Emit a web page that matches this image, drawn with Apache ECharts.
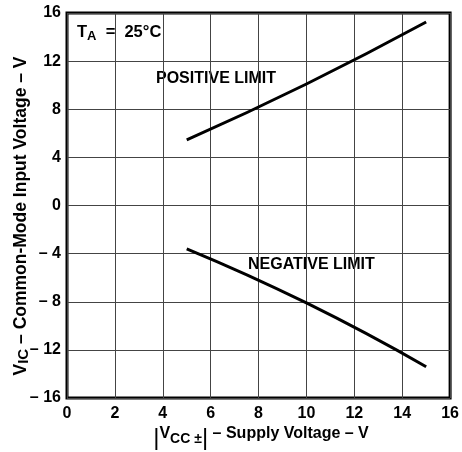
<!DOCTYPE html>
<html><head><meta charset="utf-8">
<script src="https://cdn.jsdelivr.net/npm/echarts@6/dist/echarts.min.js"></script>
<style>html,body{margin:0;padding:0;background:#fff}#c{width:462px;height:452px}</style>
</head><body><div id="c"></div>
<script>
const xTicks = [0, 2, 4, 6, 8, 10, 12, 14, 16];
const yTicks = [-16, -12, -8, -4, 0, 4, 8, 12, 16];
const posX = [5, 10, 15];
const posY = [5.45, 10.1, 15.25];
const negX = [5, 10, 15];
const negY = [-3.6, -8.1, -13.4];

const FONT = '"Liberation Sans", Arial, Helvetica, sans-serif';
const chart = echarts.init(document.getElementById('c'), null, {renderer: 'canvas'});
const txt = (size, lh) => ({fontFamily: FONT, fontWeight: 'bold', fontSize: size, color: '#000', lineHeight: lh, verticalAlign: 'top'});
const sub = (size, lh, dy) => ({fontFamily: FONT, fontWeight: 'bold', fontSize: size, color: '#000', lineHeight: lh, verticalAlign: 'top', padding: [dy, 0, 0, 0]});

chart.setOption({
  animation: false,
  backgroundColor: '#fff',
  grid: {left: 67, right: 9, top: 13, bottom: 54, show: true, borderColor: '#000', borderWidth: 3, backgroundColor: 'transparent'},
  xAxis: {
    type: 'value', min: xTicks[0], max: xTicks[xTicks.length - 1], interval: 2,
    axisLine: {show: false}, axisTick: {show: false},
    splitLine: {show: true, lineStyle: {color: '#444', width: 1}},
    axisLabel: {margin: 8, fontFamily: FONT, fontWeight: 'bold', fontSize: 16, color: '#000'}
  },
  yAxis: {
    type: 'value', min: yTicks[0], max: yTicks[yTicks.length - 1], interval: 4,
    axisLine: {show: false}, axisTick: {show: false},
    splitLine: {show: true, lineStyle: {color: '#444', width: 1}},
    axisLabel: {margin: 6, fontFamily: FONT, fontWeight: 'bold', fontSize: 16, color: '#000',
      formatter: v => v < 0 ? '\u2013 ' + Math.abs(v) : String(v)}
  },
  series: [
    {type: 'line', data: posX.map((x, i) => [x, posY[i]]), smooth: 0.5, symbol: 'none',
     lineStyle: {color: '#000', width: 3}},
    {type: 'line', data: negX.map((x, i) => [x, negY[i]]), smooth: 0.5, symbol: 'none',
     lineStyle: {color: '#000', width: 3}}
  ],
  graphic: [
    {type: 'text', left: 77, top: 24, style: {
      text: '{t|T}{s|A}{t|  =  25°C}',
      rich: {t: txt(16.5, 18), s: sub(13, 18, 6)}}},
    {type: 'text', left: 156, top: 71, style: {
      text: 'POSITIVE LIMIT', fontFamily: FONT, fontWeight: 'bold', fontSize: 16, fill: '#000'}},
    {type: 'text', left: 248, top: 257, style: {
      text: 'NEGATIVE LIMIT', fontFamily: FONT, fontWeight: 'bold', fontSize: 16, fill: '#000'}},
    {type: 'text', x: 261, y: 438, style: {
      x: 0, y: 0, align: 'center', verticalAlign: 'middle',
      text: '{b||}{t|V}{s|CC ±}{b||}{t| \u2013 Supply Voltage \u2013 V}',
      rich: {t: txt(16, 18), s: sub(14, 18, 6), b: {fontFamily: FONT, fontSize: 24, color: '#000', lineHeight: 24, verticalAlign: 'top'}}}},
    {type: 'text', x: 22, y: 216, rotation: Math.PI / 2, style: {
      x: 0, y: 0, align: 'center', verticalAlign: 'middle',
      text: '{t|V}{s|IC}{t| \u2013 Common-Mode Input Voltage \u2013 V}',
      rich: {t: txt(17.5, 20), s: sub(15, 20, 4)}}}
  ]
});
</script>
</body></html>
